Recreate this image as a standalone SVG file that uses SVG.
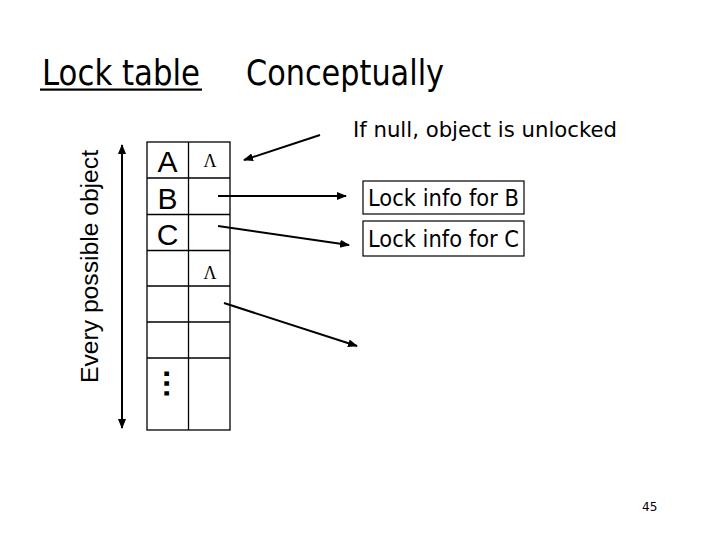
<svg xmlns="http://www.w3.org/2000/svg" width="720" height="540" viewBox="0 0 720 540">
<style>
.t{font-family:"DejaVu Sans","Verdana",sans-serif;fill:#000}
.a{font-family:"Liberation Sans",Arial,sans-serif;fill:#000}
.lam{font-family:"Liberation Serif","Times New Roman",serif;fill:#000;font-size:18px;text-anchor:middle}
.cell{fill:none;stroke:#000;stroke-width:1.3}
.con{stroke:#000;stroke-width:2;fill:none;marker-end:url(#ah)}
.box{fill:#fff;stroke:#000;stroke-width:1.2}
</style>
<defs>
<marker id="ah" viewBox="0 0 10 10" refX="9" refY="5" markerWidth="5" markerHeight="5" orient="auto-start-reverse" markerUnits="strokeWidth">
<path d="M0,1 L10,5 L0,9 z" fill="#000"/>
</marker>
</defs>
<rect width="720" height="540" fill="#fff"/>
<g id="title-lock-table">
<text class="t" x="42" y="85" font-size="35" textLength="158" lengthAdjust="spacingAndGlyphs">Lock table</text>
<rect x="40" y="88.5" width="162" height="2.2" fill="#000"/>
</g>
<g id="title-conceptually">
<text class="t" x="246" y="85" font-size="35" textLength="198" lengthAdjust="spacingAndGlyphs">Conceptually</text>
</g>
<g id="range-label">
<text class="a" font-size="23" transform="translate(98,383) rotate(-90)" textLength="233" lengthAdjust="spacingAndGlyphs">Every possible object</text>
</g>
<g id="lock-table">
<rect class="cell" x="147" y="142" width="83" height="288"/>
<line class="cell" x1="188.5" y1="142" x2="188.5" y2="430"/>
<line class="cell" x1="147" y1="178" x2="230" y2="178"/>
<line class="cell" x1="147" y1="214.5" x2="230" y2="214.5"/>
<line class="cell" x1="147" y1="250.5" x2="230" y2="250.5"/>
<line class="cell" x1="147" y1="286" x2="230" y2="286"/>
<line class="cell" x1="147" y1="322" x2="230" y2="322"/>
<line class="cell" x1="147" y1="358" x2="230" y2="358"/>
<text class="a" x="167.5" y="172" font-size="30" text-anchor="middle">A</text>
<text class="a" x="167.5" y="208.5" font-size="30" text-anchor="middle">B</text>
<text class="a" x="167.5" y="244.5" font-size="30" text-anchor="middle">C</text>
<text class="lam" x="210" y="167">Λ</text>
<text class="lam" x="210" y="279">Λ</text>
<text class="a" font-size="31" font-weight="bold" transform="translate(169,399) rotate(-90)">…</text>
</g>
<g id="note-null">
<text class="t" x="353" y="137" font-size="22" textLength="264" lengthAdjust="spacingAndGlyphs">If null, object is unlocked</text>
</g>
<g id="lock-info-b">
<rect class="box" x="363" y="181" width="161" height="33"/>
<text class="t" x="368" y="206" font-size="23" textLength="151" lengthAdjust="spacingAndGlyphs">Lock info for B</text>
</g>
<g id="lock-info-c">
<rect class="box" x="363" y="221" width="161" height="35"/>
<text class="t" x="368" y="247" font-size="23" textLength="151" lengthAdjust="spacingAndGlyphs">Lock info for C</text>
</g>
<g id="connectors">
<line x1="122" y1="145" x2="122" y2="428" stroke="#000" stroke-width="2" marker-start="url(#ah)" marker-end="url(#ah)"/>
<line class="con" x1="320" y1="135" x2="244" y2="160"/>
<line class="con" x1="218" y1="196" x2="346" y2="196"/>
<line class="con" x1="218" y1="226" x2="349" y2="245"/>
<line class="con" x1="224" y1="303" x2="357" y2="346"/>
</g>
<g id="page-number">
<text class="t" x="642" y="511" font-size="12">45</text>
</g>
</svg>
